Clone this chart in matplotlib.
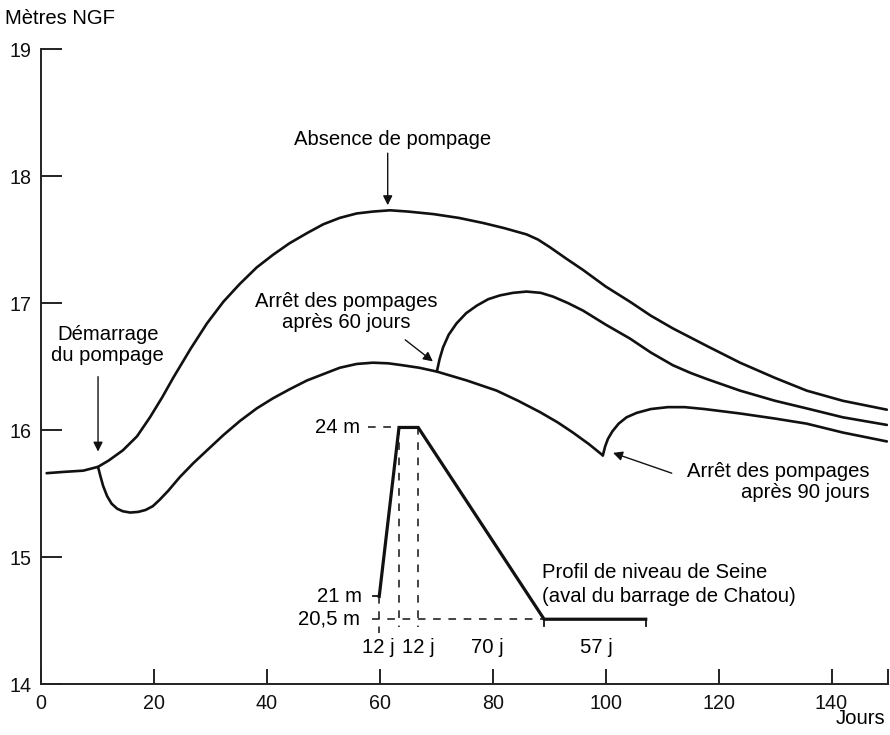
import matplotlib
matplotlib.use("Agg")
import matplotlib.pyplot as plt

plt.rcParams['font.family'] = ['Liberation Sans', 'DejaVu Sans']

# ---- data ----
no_pump_x = [1, 4, 7.5, 10.1, 12, 14.5, 17, 19.3, 21.5, 23.4, 26.5, 29.4, 32.3, 35.2, 38.2, 41.1, 44,
             47.1, 50, 52.9, 55.9, 58.8, 61.8, 65, 69.5, 74, 78.3, 82, 86, 88, 90.1, 93, 96, 100,
             104.3, 108, 111.9, 118, 123.8, 130, 135.6, 142, 149.8]
no_pump_y = [15.66, 15.67, 15.68, 15.71, 15.76, 15.84, 15.95, 16.10, 16.26, 16.41, 16.64, 16.84, 17.01,
             17.15, 17.28, 17.38, 17.47, 17.55, 17.62, 17.67, 17.705, 17.72, 17.73, 17.72, 17.70, 17.67,
             17.63, 17.59, 17.54, 17.50, 17.44, 17.35, 17.26, 17.13, 17.01, 16.90, 16.80, 16.66, 16.53,
             16.41, 16.31, 16.23, 16.16]

pump_x = [10.1, 10.5, 11, 11.7, 12.5, 13.5, 14.5, 15.8, 17.2, 18.5, 19.8, 21, 22.5, 24.6, 27, 29.4,
          32.3, 35.2, 38.2, 41.1, 44, 47.1, 50, 52.9, 55.9, 58.8, 61.5, 64, 67, 70.1, 75.4, 80.7,
          84.5, 88.4, 91.5, 94.2, 97, 99.5]
pump_y = [15.71, 15.64, 15.56, 15.48, 15.42, 15.38, 15.36, 15.35, 15.355, 15.37, 15.40, 15.45, 15.52,
          15.63, 15.74, 15.84, 15.96, 16.07, 16.17, 16.25, 16.32, 16.39, 16.44, 16.49, 16.52, 16.53,
          16.525, 16.51, 16.49, 16.46, 16.39, 16.31, 16.23, 16.14, 16.06, 15.98, 15.89, 15.80]

stop60_x = [70.1, 70.6, 71.2, 72.2, 73.6, 75.3, 77.2, 79.2, 81.3, 83.6, 86, 88.5, 90.7, 93.3, 96, 100,
            104.3, 108, 111.9, 115, 118, 123.8, 130, 135.6, 142, 149.8]
stop60_y = [16.46, 16.56, 16.65, 16.75, 16.84, 16.92, 16.98, 17.03, 17.06, 17.08, 17.09, 17.08, 17.05,
            17.00, 16.94, 16.83, 16.72, 16.61, 16.51, 16.45, 16.40, 16.31, 16.23, 16.17, 16.10, 16.04]

stop90_x = [99.5, 99.9, 100.4, 101.2, 102.3, 103.7, 105.5, 108, 111, 114, 117.5, 123.8, 130, 135.6,
            142, 149.8]
stop90_y = [15.80, 15.87, 15.93, 15.99, 16.05, 16.10, 16.135, 16.165, 16.18, 16.18, 16.165, 16.13,
            16.09, 16.05, 15.98, 15.91]

seine_x = [59.9, 63.4, 66.8, 89.1, 107.1]
seine_y = [14.69, 16.02, 16.02, 14.51, 14.51]
seine_level_labels = ["21 m", "24 m", "20,5 m"]
seine_durations = ["12 j", "12 j", "70 j", "57 j"]

x_ticks = [0, 20, 40, 60, 80, 100, 120, 140]
y_ticks = [14, 15, 16, 17, 18, 19]

# ---- figure ----
fig = plt.figure(figsize=(8.9, 7.35), dpi=100)
ax = fig.add_axes([41 / 890, 1 - 684 / 735, (888 - 41) / 890, (684 - 49) / 735])
ax.set_xlim(0, 150)
ax.set_ylim(14, 19)
ax.spines['top'].set_visible(False)
ax.spines['right'].set_visible(False)
for s in ('left', 'bottom'):
    ax.spines[s].set_linewidth(1.4)
    ax.spines[s].set_color('#222222')

ax.set_xticks(x_ticks + [150])
ax.set_xticklabels([str(v) for v in x_ticks] + [""])
ax.set_yticks(y_ticks)
ax.set_yticklabels([str(v) for v in y_ticks])
ax.tick_params(axis='x', direction='in', length=11, width=1.3, pad=7, labelsize=14.2, colors='#111111')
ax.tick_params(axis='y', direction='in', length=15, width=1.3, pad=7, labelsize=14.2, colors='#111111')

lw = 1.9
col = '#111111'
for xs, ys in [(no_pump_x, no_pump_y), (pump_x, pump_y), (stop60_x, stop60_y), (stop90_x, stop90_y)]:
    ax.plot(xs, ys, color=col, lw=lw, solid_joinstyle='round', solid_capstyle='round')
ax.plot(seine_x, seine_y, color=col, lw=2.3, solid_joinstyle='miter')

# dashed construction lines for the Seine profile
dash = dict(color=col, lw=1.1, linestyle=(0, (5, 5)))
ax.plot([57.9, seine_x[1]], [seine_y[1], seine_y[1]], **dash)
ax.plot([58.6, seine_x[3]], [seine_y[3], seine_y[3]], **dash)
ax.plot([seine_x[0], seine_x[0]], [seine_y[0], 14.40], **dash)
ax.plot([seine_x[1], seine_x[1]], [seine_y[1], 14.45], **dash)
ax.plot([seine_x[2], seine_x[2]], [seine_y[2], 14.45], **dash)
ax.plot([58.8, seine_x[0]], [seine_y[0], seine_y[0]], color=col, lw=1.3)
ax.plot([seine_x[3], seine_x[3]], [seine_y[3], 14.46], color=col, lw=1.3)
ax.plot([seine_x[4], seine_x[4]], [seine_y[4], 14.46], color=col, lw=1.3)

fs = 14.6
ax.text(56.8, seine_y[0], seine_level_labels[0], ha='right', va='center', fontsize=fs)
ax.text(56.5, seine_y[1], seine_level_labels[1], ha='right', va='center', fontsize=fs)
ax.text(56.5, seine_y[3], seine_level_labels[2], ha='right', va='center', fontsize=fs)
for xc, lab in zip([59.7, 66.8, 79.0, 98.3], seine_durations):
    ax.text(xc, 14.29, lab, ha='center', va='center', fontsize=fs)

ax.text(88.7, 14.88, "Profil de niveau de Seine", ha='left', va='center', fontsize=fs)
ax.text(88.7, 14.69, "(aval du barrage de Chatou)", ha='left', va='center', fontsize=fs)

arrow = dict(arrowstyle='-|>', color=col, lw=1.0, mutation_scale=14, shrinkA=0, shrinkB=0)
ax.text(62.2, 18.29, "Absence de pompage", ha='center', va='center', fontsize=fs)
ax.annotate("", xy=(61.4, 17.77), xytext=(61.4, 18.18), arrowprops=arrow)

ax.text(54.0, 16.93, "Arrêt des pompages\naprès 60 jours", ha='center', va='center',
        fontsize=fs, linespacing=1.15)
ax.annotate("", xy=(69.4, 16.54), xytext=(64.5, 16.71), arrowprops=arrow)

ax.text(11.8, 16.67, "Démarrage\ndu pompage", ha='center', va='center', fontsize=fs, linespacing=1.15)
ax.annotate("", xy=(10.1, 15.83), xytext=(10.1, 16.42), arrowprops=arrow)

ax.text(146.8, 15.59, "Arrêt des pompages\naprès 90 jours", ha='right', va='center',
        fontsize=fs, linespacing=1.15, multialignment='right')
ax.annotate("", xy=(101.3, 15.82), xytext=(111.7, 15.66), arrowprops=arrow)

fig.text(5 / 890, 1 - 18 / 735, "Mètres NGF", ha='left', va='center', fontsize=fs)
fig.text(885 / 890, 1 - 718 / 735, "Jours", ha='right', va='center', fontsize=fs)

fig.savefig("out.png", dpi=100)
